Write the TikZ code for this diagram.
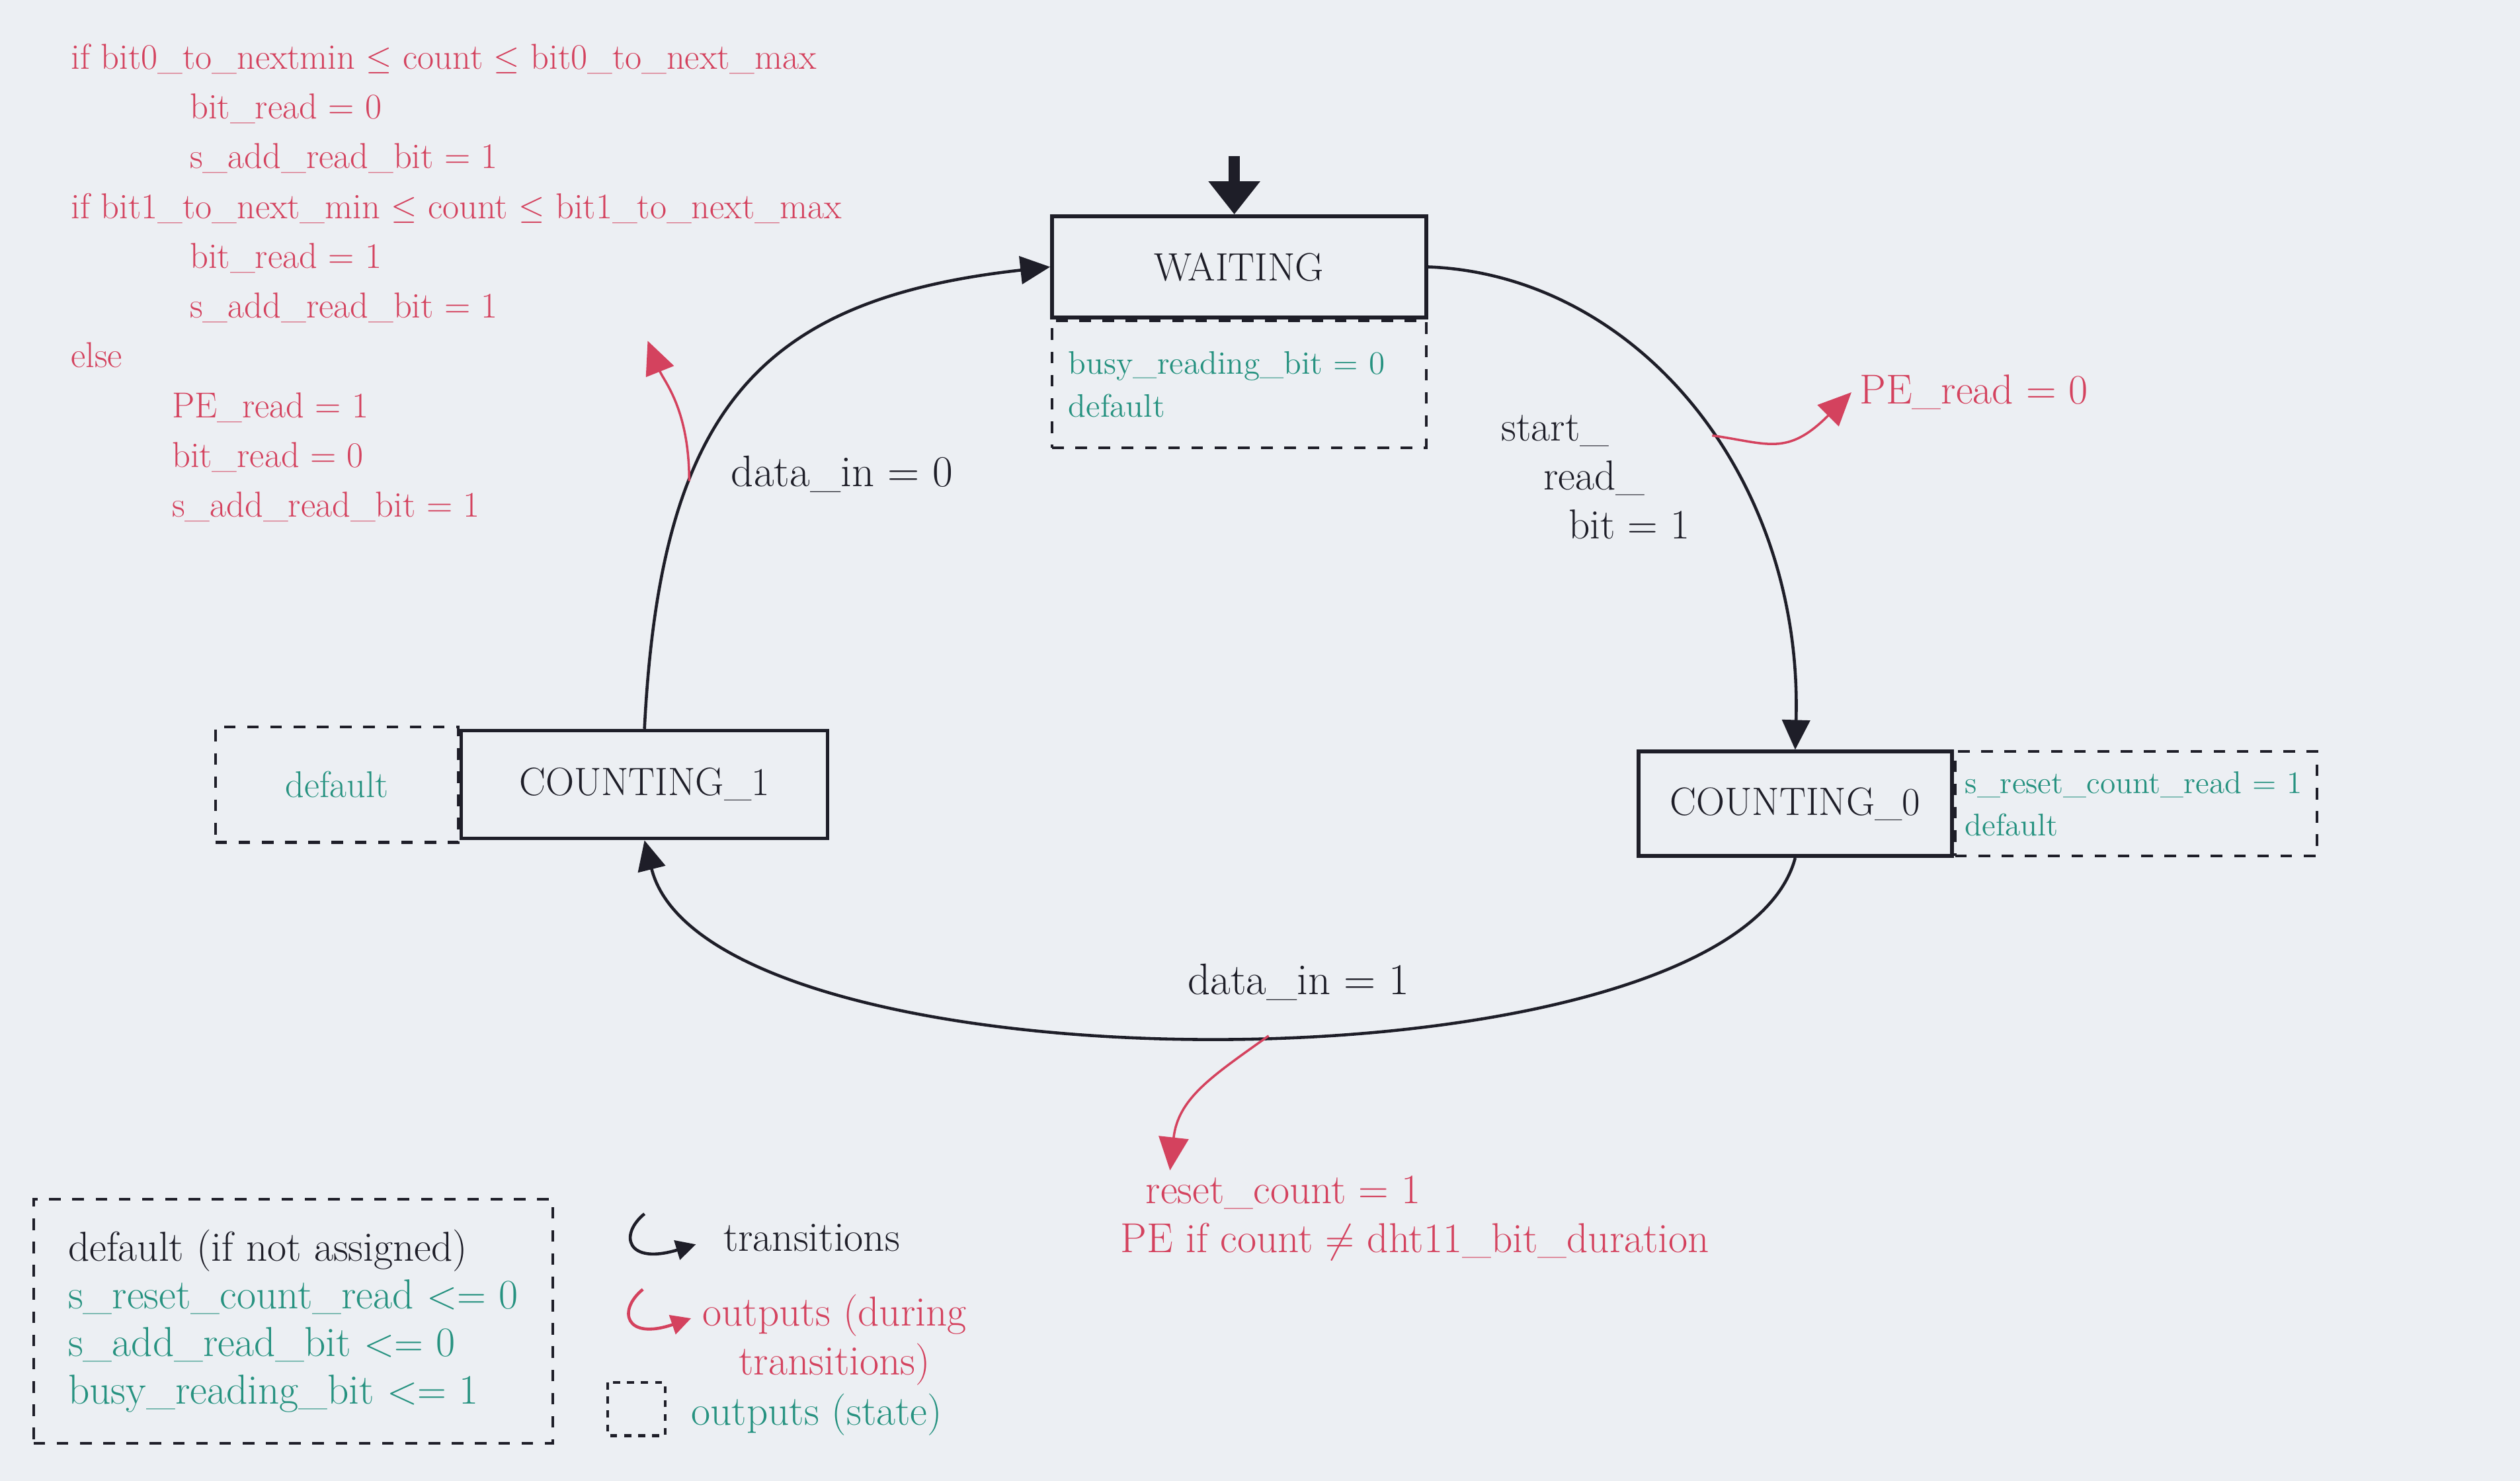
\documentclass[tikz,border=0pt]{standalone}
\usepackage{amsmath}
\usepackage{tikz}
\usetikzlibrary{arrows.meta,positioning}

\definecolor{paper}{RGB}{236,239,243}
\definecolor{ink}{RGB}{30,30,40}
\definecolor{redink}{RGB}{212,66,94}
\definecolor{greenink}{RGB}{38,146,128}

\begin{document}
\begin{tikzpicture}[x=0.024305cm, y=-0.024305cm, node distance=0pt,
    statebox/.style={draw=ink, line width=1.6pt, text=ink, font=\fontsize{17}{20}\selectfont},
    outbox/.style={draw=ink, line width=1.2pt, dash pattern=on 5pt off 5pt, text=greenink, font=\fontsize{14}{18.5}\selectfont},
    trans/.style={draw=ink, line width=1.3pt, -{Triangle[length=0.45cm, width=0.42cm]}},
    outarrow/.style={draw=redink, line width=1pt, -{Triangle[length=0.5cm, width=0.45cm]}},
    lbl/.style={text=ink, font=\fontsize{18}{21}\selectfont},
    redlbl/.style={text=redink, font=\fontsize{18}{21}\selectfont}]

\fill[paper] (0,0) rectangle (1568,921);
\useasboundingbox (0,0) rectangle (1568,921);

% states
\node[statebox, minimum width=5.66cm, minimum height=1.53cm] (W)  at (771,166) {WAITING};
\node[statebox, minimum width=4.74cm, minimum height=1.58cm] (C0) at (1117,500) {COUNTING\_0};
\node[statebox, minimum width=5.54cm, minimum height=1.63cm] (C1) at (401,488) {COUNTING\_1};

% outputs of the states
\node[outbox, below=of W, minimum height=1.92cm, text width=5.16cm, inner xsep=0.25cm, align=left] (Wout)
     {busy\_reading\_bit = 0\\default};
\node[outbox, right=of C0, minimum height=1.58cm, text width=5.17cm, inner xsep=0.15cm, align=left,
      font=\fontsize{13.5}{18}\selectfont] (C0out)
     {s\_reset\_count\_read = 1\\default};
\node[outbox, left=of C1, minimum width=3.67cm, minimum height=1.75cm, font=\fontsize{16}{19}\selectfont] (C1out) {default};

% initial
\coordinate (init) at (768,97);
\draw[ink, line width=5pt, -{Triangle[length=0.5cm, width=0.75cm]}] (init) -- (W.north -| init);

% transitions
\draw[trans] (W.east) .. controls +(130,5) and +(5,-170) .. (C0.north) coordinate[pos=0.55] (o1);
\draw[trans] (C0.south) .. controls +(-40,150) and +(40,160) .. (C1.south) coordinate[pos=0.47] (o2);
\draw[trans] (C1.north) .. controls +(10,-200) and +(-180,20) .. (W.west) coordinate[pos=0.32] (o3);

\node[lbl, font=\fontsize{19}{22}\selectfont] (D0) at (524,295) {data\_in = 0};
\node[lbl, font=\fontsize{19}{22}\selectfont] (D1) at (808,611) {data\_in = 1};
\node[lbl, anchor=north west, align=left, inner sep=0pt] (SRB) at (934,258)
     {start\_\\\hspace*{1em}read\_\\\hspace*{1.6em}bit = 1};

% outputs during transitions
\node[redlbl, anchor=west] (PE0) at (1152,244) {PE\_read = 0};
\draw[outarrow] (o1) .. controls +(35,5) and +(-40,40) .. (PE0.west);

\node[redlbl, anchor=north west, align=left, inner sep=0pt] (RST) at (697,731)
     {\hspace*{0.6em}reset\_count = 1\\PE if count $\neq$ dht11\_bit\_duration};
\coordinate (rtip) at (728,728);
\draw[outarrow] (o2) .. controls +(-35,25) and +(5,-45) .. (rtip);

\node[redlbl, font=\fontsize{15.5}{21.4}\selectfont, anchor=north west, align=left, inner sep=0pt] (COND) at (44,27)
     {if bit0\_to\_nextmin $\leq$ count $\leq$ bit0\_to\_next\_max\\
      \hspace*{3.3em}bit\_read = 0\\
      \hspace*{3.3em}s\_add\_read\_bit = 1\\
      if bit1\_to\_next\_min $\leq$ count $\leq$ bit1\_to\_next\_max\\
      \hspace*{3.3em}bit\_read = 1\\
      \hspace*{3.3em}s\_add\_read\_bit = 1\\
      else\\
      \hspace*{2.8em}PE\_read = 1\\
      \hspace*{2.8em}bit\_read = 0\\
      \hspace*{2.8em}s\_add\_read\_bit = 1};
\coordinate (ltip) at (403,212);
\draw[outarrow] (o3) .. controls +(0,-45) and +(10,25) .. (ltip);

% legend
\node[draw=ink, line width=1.2pt, dash pattern=on 5pt off 5pt, anchor=north west, minimum width=7.85cm,
      minimum height=3.69cm, align=left, text=ink, font=\fontsize{18}{20.5}\selectfont] (LEG) at (20,745)
     {default (if not assigned)\\
      \textcolor{greenink}{s\_reset\_count\_read $<=$ 0}\\
      \textcolor{greenink}{s\_add\_read\_bit $<=$ 0}\\
      \textcolor{greenink}{busy\_reading\_bit $<=$ 1}};

\node[lbl, anchor=west] (LT) at (445,770) {transitions};
\draw[ink, line width=1.3pt, -{Triangle[length=0.3cm, width=0.3cm]}] (401,755) .. controls (385,768) and (390,787) .. (433,774);

\node[redlbl, anchor=north west, align=center] (LO) at (432,800) {outputs (during\\transitions)};
\draw[redink, line width=1.3pt, -{Triangle[length=0.3cm, width=0.3cm]}] (400,802) .. controls (384,815) and (389,834) .. (430,820);

\draw[ink, line width=1.2pt, dash pattern=on 3pt off 3pt] (378,860) rectangle (414,893);
\node[anchor=west, text=greenink, font=\fontsize{18}{21}\selectfont] (LS) at (425,880) {outputs (state)};
\end{tikzpicture}
\end{document}
